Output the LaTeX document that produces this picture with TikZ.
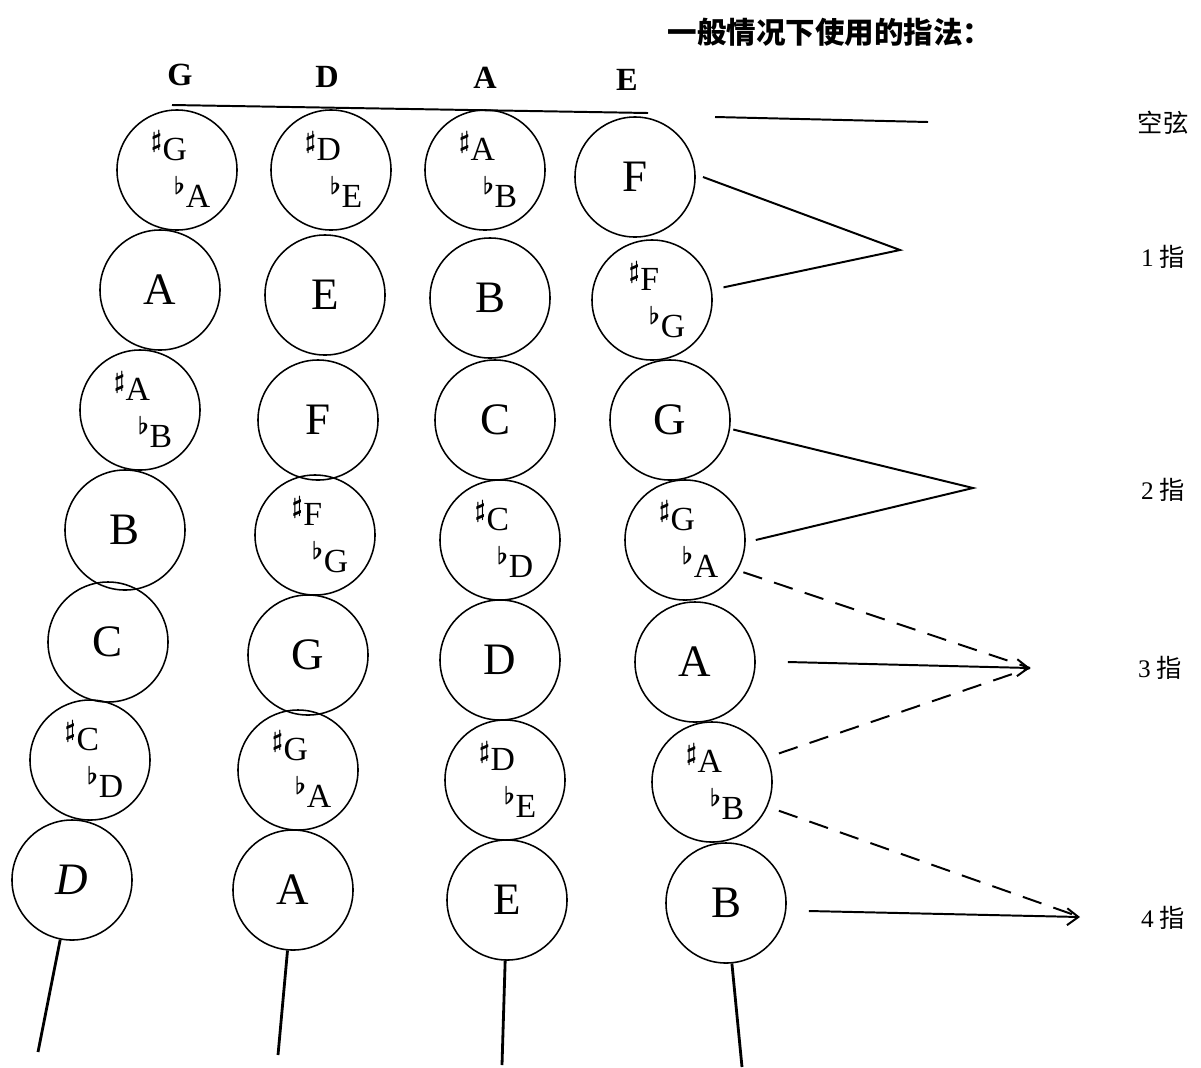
\documentclass[tikz,border=0pt]{standalone}
\usepackage{amsmath}
\usepackage{amssymb}
\usepackage{fontspec}
\setmainfont{Liberation Serif}
\newfontfamily\cjk{Noto Sans CJK SC}
\usepackage{tikz}
\usetikzlibrary{arrows.meta}

\newcommand{\shp}{\textsuperscript{$\boldsymbol{\sharp}$}}
\newcommand{\flt}{\textsuperscript{$\boldsymbol{\flat}$}}
\newcommand{\num}[1]{{\rmfamily #1}}

\tikzset{
  note/.style={circle,draw,line width=1.1pt,minimum size=3cm,inner sep=0pt,font=\fontsize{32}{36}\selectfont},
  up/.style={xshift=-0.2cm,yshift=0.6cm,font=\fontsize{24}{26}\selectfont},
  dn/.style={xshift=0.38cm,yshift=-0.55cm,font=\fontsize{24}{26}\selectfont},
  head/.style={font=\fontsize{23}{25}\selectfont\bfseries},
  fing/.style={font=\fontsize{18}{20}\selectfont\cjk},
  link/.style={line width=1.4pt},
  dlink/.style={line width=1.4pt,dash pattern=on 14pt off 9pt},
  string/.style={line width=2pt}
}

\begin{document}
\begin{tikzpicture}[x=0.025cm,y=-0.025cm]
			\useasboundingbox (0,0) rectangle (1201,1067);
			\node[font=\fontsize{21}{24}\selectfont\cjk\bfseries](title) at (830,32) {一般情况下使用的指法：};
			\node[head](hG) at (180,75) {G};
			\node[head](hD) at (327,77) {D};
			\node[head](hA) at (485,78) {A};
			\node[head](hE) at (627,80) {E};
			% G string
			\node[note](g1) at (177,170) {};
			\node[up] at (g1) {\shp G};
			\node[dn] at (g1) {\flt A};
			\node[note](g2) at (160,290) {A};
			\node[note](g3) at (140,410) {};
			\node[up] at (g3) {\shp A};
			\node[dn] at (g3) {\flt B};
			\node[note](g4) at (125,530) {B};
			\node[note](g5) at (108,642) {C};
			\node[note](g6) at (90,760) {};
			\node[up] at (g6) {\shp C};
			\node[dn] at (g6) {\flt D};
			\node[note](g7) at (72,880) {\textit{D}};
			% D string
			\node[note](d1) at (331,170) {};
			\node[up] at (d1) {\shp D};
			\node[dn] at (d1) {\flt E};
			\node[note](d2) at (325,295) {E};
			\node[note](d3) at (318,420) {F};
			\node[note](d4) at (315,535) {};
			\node[up] at (d4) {\shp F};
			\node[dn] at (d4) {\flt G};
			\node[note](d5) at (308,655) {G};
			\node[note](d6) at (298,770) {};
			\node[up] at (d6) {\shp G};
			\node[dn] at (d6) {\flt A};
			\node[note](d7) at (293,890) {A};
			% A string
			\node[note](a1) at (485,170) {};
			\node[up] at (a1) {\shp A};
			\node[dn] at (a1) {\flt B};
			\node[note](a2) at (490,298) {B};
			\node[note](a3) at (495,420) {C};
			\node[note](a4) at (500,540) {};
			\node[up] at (a4) {\shp C};
			\node[dn] at (a4) {\flt D};
			\node[note](a5) at (500,660) {D};
			\node[note](a6) at (505,780) {};
			\node[up] at (a6) {\shp D};
			\node[dn] at (a6) {\flt E};
			\node[note](a7) at (507,900) {E};
			% E string
			\node[note](e1) at (635,177) {F};
			\node[note](e2) at (652,300) {};
			\node[up] at (e2) {\shp F};
			\node[dn] at (e2) {\flt G};
			\node[note](e3) at (670,420) {G};
			\node[note](e4) at (685,540) {};
			\node[up] at (e4) {\shp G};
			\node[dn] at (e4) {\flt A};
			\node[note](e5) at (695,662) {A};
			\node[note](e6) at (712,782) {};
			\node[up] at (e6) {\shp A};
			\node[dn] at (e6) {\flt B};
			\node[note](e7) at (726,903) {B};
			% nut and string ends
			\coordinate (nut1) at (172,105);
			\coordinate (nut2) at (648,113);
			\coordinate (sg) at (38,1052);
			\coordinate (sd) at (278,1055);
			\coordinate (sa) at (502,1065);
			\coordinate (se) at (742,1067);
			\draw[link] (nut1)--(nut2);
			\draw[string] (g7)--(sg);
			\draw[string] (d7)--(sd);
			\draw[string] (a7)--(sa);
			\draw[string] (e7)--(se);
			% fingers
			\node[fing](l0) at (1163,123) {空弦};
			\node[fing](l1) at (1163,257) {\num{1} 指};
			\node[fing](l2) at (1163,490) {\num{2} 指};
			\node[fing](l3) at (1160,668) {\num{3} 指};
			\node[fing](l4) at (1163,918) {\num{4} 指};
			\coordinate (o1) at (715,117);
			\coordinate (o2) at (928,122);
			\coordinate (p1) at (900,250);
			\coordinate (p2) at (973,488);
			\coordinate (p3) at (1030,668);
			\coordinate (p4) at (1080,917);
			\draw[link] (o1)--(o2);
			\draw[link] ([xshift=0.18cm]e1.east)--(p1)--([xshift=0.3cm]e2.12);
			\draw[link] ([xshift=0.08cm]e3.-9)--(p2)--([xshift=0.25cm]e4.east);
			\draw[dlink,shorten <=0.15cm] (e4.-30)--(p3);
			\draw[dlink,shorten <=0.3cm] (e6.24)--(p3);
			\draw[link,-{Straight Barb[length=8pt,width=12pt]}] ([xshift=0.8cm]e5.east)--(p3);
			\draw[dlink,shorten <=0.3cm] (e6.-24)--(p4);
			\draw[link,-{Straight Barb[length=8pt,width=12pt]}] ([xshift=0.55cm,yshift=-0.2cm]e7.east)--(p4);
		\end{tikzpicture}
\end{document}
